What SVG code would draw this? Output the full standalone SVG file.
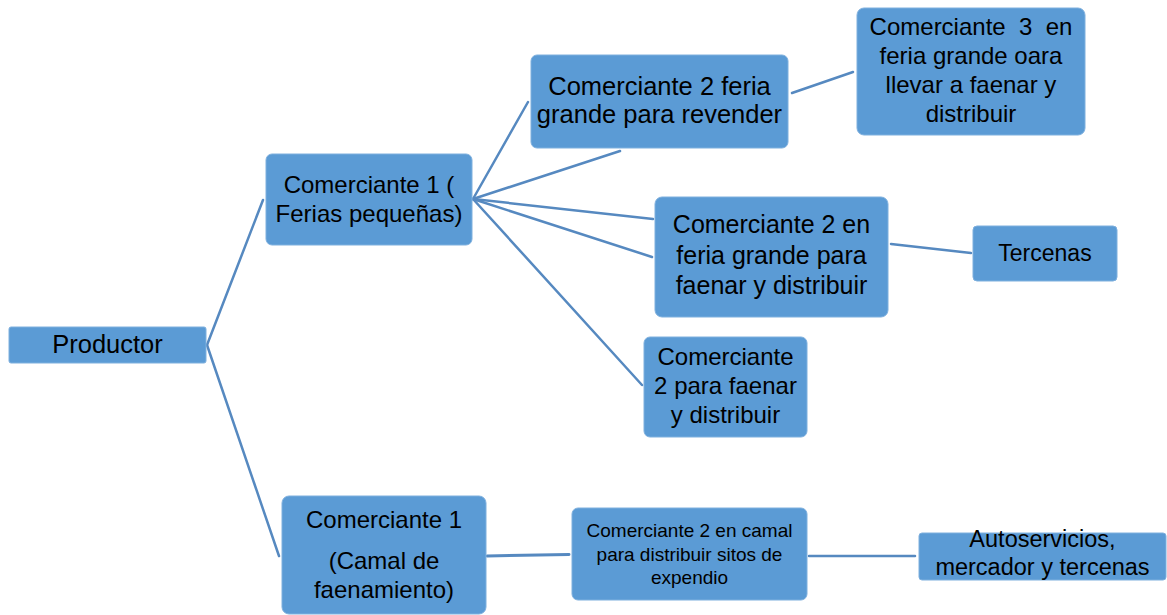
<svg xmlns="http://www.w3.org/2000/svg" width="1167" height="615" viewBox="0 0 1167 615">
<style>
.box{fill:#5B9BD5;stroke:#7FB0DE;stroke-width:1}
.t{font-family:"Liberation Sans",Arial,sans-serif;fill:#000;text-anchor:middle}
.c{stroke:#5689C0;stroke-width:2.5;fill:none;stroke-linecap:round}
</style>
<rect width="1167" height="615" fill="#fff"/>
<g id="connectors">
<line class="c" x1="207" y1="345" x2="263" y2="200"/>
<line class="c" x1="207" y1="345" x2="279" y2="556"/>
<line class="c" x1="473" y1="199" x2="528" y2="102"/>
<line class="c" x1="473" y1="199" x2="620" y2="151"/>
<line class="c" x1="473" y1="199" x2="653" y2="219"/>
<line class="c" x1="473" y1="199" x2="652" y2="257"/>
<line class="c" x1="473" y1="199" x2="642" y2="385"/>
<line class="c" x1="792" y1="93" x2="853" y2="72"/>
<line class="c" x1="891" y1="244" x2="971" y2="253"/>
<line class="c" x1="487" y1="556" x2="569" y2="554.5" style="stroke-width:3"/>
<line class="c" x1="809" y1="556" x2="915" y2="556"/>
</g>
<g id="productor">
<rect class="box" x="9" y="327" width="197" height="36" rx="2"/>
<text class="t" x="107.5" y="353" font-size="25.5">Productor</text>
</g>
<g id="comerciante1-ferias">
<rect class="box" x="266" y="154" width="206" height="91" rx="6"/>
<text class="t" x="369" y="193" font-size="24">Comerciante 1 (</text>
<text class="t" x="369" y="222" font-size="24">Ferias pequeñas)</text>
</g>
<g id="comerciante2-revender">
<rect class="box" x="531" y="55" width="257" height="93" rx="6"/>
<text class="t" x="659.5" y="95" font-size="25.5">Comerciante 2 feria</text>
<text class="t" x="659.5" y="123" font-size="25.5">grande para revender</text>
</g>
<g id="comerciante3">
<rect class="box" x="857" y="8" width="228" height="127" rx="7"/>
<text class="t" x="971" y="35" font-size="24" xml:space="preserve">Comerciante  3  en</text>
<text class="t" x="971" y="64" font-size="24">feria grande oara</text>
<text class="t" x="971" y="93" font-size="24">llevar a faenar y</text>
<text class="t" x="971" y="122" font-size="24">distribuir</text>
</g>
<g id="comerciante2-feria-faenar">
<rect class="box" x="655" y="197" width="233" height="120" rx="7"/>
<text class="t" x="771.5" y="233" font-size="25">Comerciante 2 en</text>
<text class="t" x="771.5" y="264" font-size="25">feria grande para</text>
<text class="t" x="771.5" y="294" font-size="25">faenar y distribuir</text>
</g>
<g id="comerciante2-faenar">
<rect class="box" x="644" y="337" width="163" height="100" rx="6"/>
<text class="t" x="725.5" y="365" font-size="24">Comerciante</text>
<text class="t" x="725.5" y="394" font-size="24">2 para faenar</text>
<text class="t" x="725.5" y="423" font-size="24">y distribuir</text>
</g>
<g id="tercenas">
<rect class="box" x="973" y="226" width="144" height="55" rx="4"/>
<text class="t" x="1045" y="261" font-size="23">Tercenas</text>
</g>
<g id="comerciante1-camal">
<rect class="box" x="282" y="496" width="204" height="118" rx="7"/>
<text class="t" x="384" y="528" font-size="24">Comerciante 1</text>
<text class="t" x="384" y="569" font-size="24">(Camal de</text>
<text class="t" x="384" y="598" font-size="24">faenamiento)</text>
</g>
<g id="comerciante2-camal">
<rect class="box" x="572" y="508" width="235" height="92" rx="6"/>
<text class="t" x="689.5" y="537" font-size="19">Comerciante 2 en camal</text>
<text class="t" x="689.5" y="561" font-size="19">para distribuir sitos de</text>
<text class="t" x="689.5" y="584" font-size="19">expendio</text>
</g>
<g id="autoservicios">
<rect class="box" x="919" y="533" width="247" height="47" rx="3"/>
<text class="t" x="1042.5" y="547" font-size="23.5">Autoservicios,</text>
<text class="t" x="1042.5" y="575" font-size="23.5">mercador y tercenas</text>
</g>
</svg>
